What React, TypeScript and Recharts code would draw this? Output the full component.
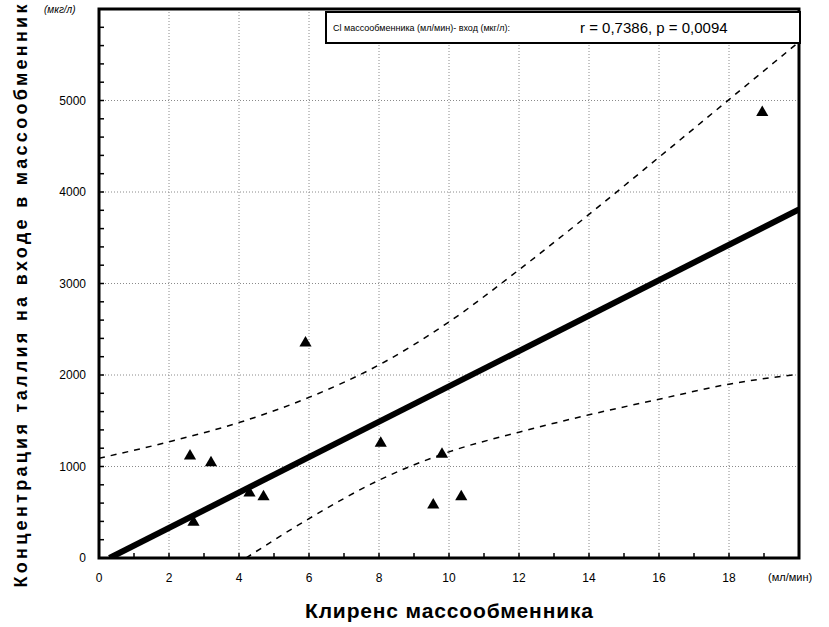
import { ComposedChart, Line, Scatter, XAxis, YAxis, CartesianGrid, Label, ReferenceArea } from "recharts";

// observed points (Cl, concentration)
const pointX = [2.6, 2.7, 3.2, 4.3, 4.7, 5.9, 8.05, 9.8, 9.55, 10.35, 18.95];
const pointY = [1115, 390, 1040, 710, 670, 2350, 1255, 1135, 580, 670, 4870];

// regression line
const fitX = [0.3, 20];
const fitY = [0, 3810];

// 95% band
const upperX = [0, 2, 4, 6, 8, 10, 12, 14, 16, 18, 20];
const upperY = [1090, 1270, 1480, 1755, 2110, 2580, 3150, 3755, 4380, 5010, 5640];
const lowerX = [4.2, 6, 8, 10, 12, 14, 16, 18, 20];
const lowerY = [0, 430, 850, 1160, 1375, 1565, 1735, 1900, 2010];

const xMajor = [0, 2, 4, 6, 8, 10, 12, 14, 16, 18];
const xTicks = Array.from({ length: 21 }, (_, i) => i);
const yMajor = [0, 1000, 2000, 3000, 4000, 5000];
const yTicks = Array.from({ length: 31 }, (_, i) => i * 200);
const gridX = [2, 4, 6, 8, 10, 12, 14, 16, 18];
const gridY = [1000, 2000, 3000, 4000, 5000];

const zip = (xs: number[], ys: number[]) => xs.map((x, i) => ({ x, y: ys[i] }));

const points = zip(pointX, pointY);
const fit = zip(fitX, fitY);
const upper = zip(upperX, upperY);
const lower = zip(lowerX, lowerY);

const FONT = "'Liberation Sans', Arial, sans-serif";

// everything drawn as <path>, plain <line> did not show up
const seg = (x1: number, y1: number, x2: number, y2: number) => `M${x1},${y1}L${x2},${y2}`;

const BottomTick = (p: any) => {
  const v = p.payload.value;
  const major = xMajor.includes(v);
  return (
    <g>
      <path d={seg(p.x, p.y, p.x, p.y - 5)} stroke="#000" strokeWidth={1.5} />
      {major && (
        <text x={p.x} y={p.y + 24} textAnchor="middle" fontSize={12} fontFamily={FONT} fill="#000">
          {v}
        </text>
      )}
    </g>
  );
};

const TopTick = (p: any) => <path d={seg(p.x, p.y, p.x, p.y + 5)} stroke="#000" strokeWidth={1.5} />;

const LeftTick = (p: any) => {
  const v = p.payload.value;
  const major = yMajor.includes(v);
  return (
    <g>
      <path d={seg(p.x, p.y, p.x + 5, p.y)} stroke="#000" strokeWidth={1.5} />
      {major && (
        <text x={p.x - 13} y={p.y + 4} textAnchor="end" fontSize={12} fontFamily={FONT} fill="#000">
          {v}
        </text>
      )}
    </g>
  );
};

const RightTick = (p: any) => <path d={seg(p.x, p.y, p.x - 5, p.y)} stroke="#000" strokeWidth={1.5} />;

const GridLine = (p: any) => (
  <path
    key={p.key}
    d={seg(p.x1, p.y1, p.x2, p.y2)}
    stroke="#8a8a8a"
    strokeWidth={1}
    strokeDasharray="1 2"
    fill="none"
  />
);

const YTitle = () => (
  <text
    x={21}
    y={296}
    transform="rotate(-90 21 296)"
    textAnchor="middle"
    dominantBaseline="central"
    fontSize={18}
    fontWeight="bold"
    fontFamily={FONT}
    textLength={583}
    lengthAdjust="spacing"
    fill="#000"
  >
    Концентрация таллия на входе в массообменник
  </text>
);

const XTitle = () => (
  <text
    x={449}
    y={618}
    textAnchor="middle"
    fontSize={21}
    fontWeight="bold"
    fontFamily={FONT}
    textLength={288}
    lengthAdjust="spacing"
    fill="#000"
  >
    Клиренс массообменника
  </text>
);

export default function App() {
  return (
    <div style={{ position: "absolute", left: 0, top: 0, width: 829, height: 627, background: "#fff" }}>
      <ComposedChart width={829} height={627} margin={{ top: 9, right: 30, bottom: 0, left: 0 }}>
        <CartesianGrid
          horizontalValues={gridY}
          verticalValues={gridX}
          horizontal={GridLine}
          vertical={GridLine}
        />
        <XAxis
          type="number"
          dataKey="x"
          domain={[0, 20]}
          ticks={xTicks}
          interval={0}
          allowDataOverflow
          height={69}
          tickSize={0}
          tickMargin={0}
          tickLine={false}
          tick={BottomTick}
          axisLine={false}
        >
          <Label content={XTitle} />
        </XAxis>
        <XAxis
          xAxisId="top"
          orientation="top"
          type="number"
          domain={[0, 20]}
          ticks={xTicks}
          interval={0}
          allowDataOverflow
          height={0}
          tickSize={0}
          tickMargin={0}
          tickLine={false}
          tick={TopTick}
          axisLine={false}
        />
        <YAxis
          type="number"
          dataKey="y"
          domain={[0, 6000]}
          ticks={yTicks}
          interval={0}
          allowDataOverflow
          width={99}
          tickSize={0}
          tickMargin={0}
          tickLine={false}
          tick={LeftTick}
          axisLine={false}
        >
          <Label content={YTitle} />
        </YAxis>
        <YAxis
          yAxisId="right"
          orientation="right"
          type="number"
          domain={[0, 6000]}
          ticks={yTicks}
          interval={0}
          allowDataOverflow
          width={0}
          tickSize={0}
          tickMargin={0}
          tickLine={false}
          tick={RightTick}
          axisLine={false}
        />
        <Line data={upper} dataKey="y" type="monotone" stroke="#000" strokeWidth={1.5} strokeDasharray="6 6" dot={false} isAnimationActive={false} />
        <Line data={lower} dataKey="y" type="monotone" stroke="#000" strokeWidth={1.5} strokeDasharray="6 6" dot={false} isAnimationActive={false} />
        <Line data={fit} dataKey="y" type="linear" stroke="#000" strokeWidth={6} dot={false} isAnimationActive={false} />
        <Scatter data={points} dataKey="y" fill="#000" shape="triangle" legendType="none" isAnimationActive={false} />
        <ReferenceArea x1={0} x2={20} y1={0} y2={6000} fill="none" fillOpacity={0} stroke="#000" strokeWidth={3} ifOverflow="visible" />
      </ComposedChart>

      <div
        style={{
          position: "absolute",
          left: 44,
          top: 4,
          fontSize: 10,
          fontStyle: "italic",
          fontFamily: FONT,
        }}
      >
        (мкг/л)
      </div>
      <div
        style={{
          position: "absolute",
          left: 768,
          top: 571,
          fontSize: 11,
          fontFamily: FONT,
        }}
      >
        (мл/мин)
      </div>

      <div
        style={{
          position: "absolute",
          left: 325,
          top: 11,
          width: 476,
          height: 33,
          boxSizing: "border-box",
          border: "2px solid #000",
          background: "#fff",
          display: "flex",
          alignItems: "center",
          fontFamily: FONT,
          whiteSpace: "nowrap",
        }}
      >
        <span style={{ fontSize: 9, marginLeft: 6, width: 245 }}>Cl массообменника (мл/мин)- вход (мкг/л):</span>
        <span style={{ fontSize: 15, marginLeft: 2 }}>r = 0,7386, p = 0,0094</span>
      </div>
    </div>
  );
}
